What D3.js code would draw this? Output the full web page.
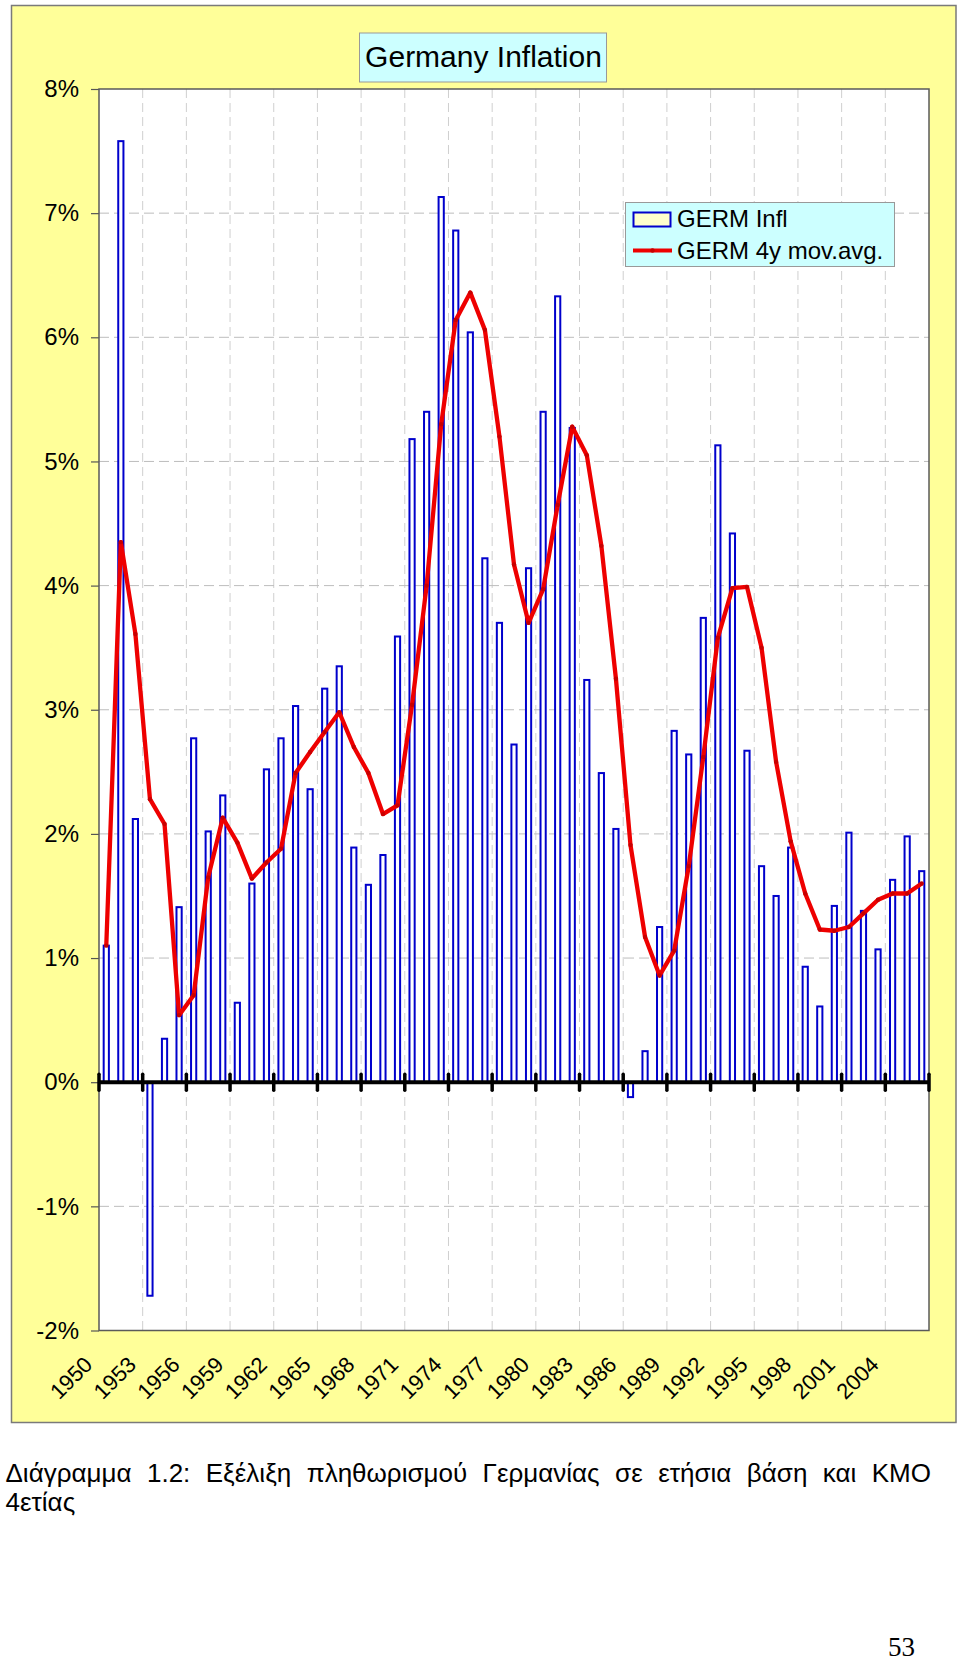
<!DOCTYPE html>
<html><head><meta charset="utf-8">
<script src="https://cdn.jsdelivr.net/npm/d3@7"></script>
<style>body{margin:0;background:#fff}</style>
</head><body>
<svg id="c" width="960" height="1663"></svg>
<script>
const years = [1950,1951,1952,1953,1954,1955,1956,1957,1958,1959,
  1960,1961,1962,1963,1964,1965,1966,1967,1968,1969,
  1970,1971,1972,1973,1974,1975,1976,1977,1978,1979,
  1980,1981,1982,1983,1984,1985,1986,1987,1988,1989,
  1990,1991,1992,1993,1994,1995,1996,1997,1998,1999,
  2000,2001,2002,2003,2004,2005,2006];
const inflation = [1.10,7.58,2.12,-1.72,0.35,1.41,2.77,2.02,2.31,0.64,
  1.60,2.52,2.77,3.03,2.36,3.17,3.35,1.89,1.59,1.83,
  3.59,5.18,5.40,7.13,6.86,6.04,4.22,3.70,2.72,4.14,
  5.40,6.33,5.27,3.24,2.49,2.04,-0.12,0.25,1.25,2.83,
  2.64,3.74,5.13,4.42,2.67,1.74,1.50,1.89,0.93,0.61,
  1.42,2.01,1.38,1.07,1.63,1.98,1.70];
const movAvg = [1.10,4.35,3.61,2.28,2.08,0.54,0.70,1.65,2.13,1.93,
  1.64,1.77,1.88,2.49,2.66,2.82,2.98,2.70,2.49,2.16,
  2.23,3.04,4.00,5.30,6.14,6.36,6.06,5.20,4.17,3.70,
  3.97,4.65,5.28,5.05,4.32,3.25,1.91,1.17,0.86,1.06,
  1.74,2.62,3.58,3.98,3.99,3.50,2.58,1.94,1.52,1.23,
  1.22,1.25,1.36,1.47,1.52,1.52,1.60];
const yTicks = [-2,-1,0,1,2,3,4,5,6,7,8];
const xLabelYears = [1950,1953,1956,1959,1962,1965,1968,1971,1974,1977,1980,1983,1986,1989,1992,1995,1998,2001,2004];
const titleText = "Germany Inflation";
const legendLabels = ["GERM Infl","GERM 4y mov.avg."];
const captionLine1 = "Διάγραμμα 1.2: Εξέλιξη πληθωρισμού Γερμανίας σε ετήσια βάση και ΚΜΟ";
const captionLine2 = "4ετίας";
const pageNumber = "53";

const svg = d3.select("#c");
const FONT = "'Liberation Sans', Arial, Helvetica, sans-serif";
const L = 99, R = 929, T = 89, B = 1330.5;
const x = d3.scaleBand().domain(years).range([L, R]).padding(0);
const xi = d3.scaleLinear().domain([0, years.length]).range([L, R]);
const y = d3.scaleLinear().domain([-2, 8]).range([B, T]);
const bw = x.bandwidth();

// outer chart area
svg.append("rect").attr("x", 11.5).attr("y", 5.5).attr("width", 944.5).attr("height", 1417)
  .attr("fill", "#FFFF99").attr("stroke", "#7a7a7a").attr("stroke-width", 1.5);

// plot area
svg.append("rect").attr("x", L).attr("y", T).attr("width", R - L).attr("height", B - T).attr("fill", "#fff");

// vertical grid
const boundaryIdx = d3.range(0, years.length + 1, 3);
svg.append("g").selectAll("line").data(boundaryIdx.filter(d => d > 0 && d < years.length)).join("line")
  .attr("x1", d => xi(d)).attr("x2", d => xi(d)).attr("y1", T).attr("y2", B)
  .attr("stroke", "#cfcfcf").attr("stroke-width", 1).attr("stroke-dasharray", "9,5");

// horizontal grid
svg.append("g").selectAll("line").data(yTicks.filter(d => d !== 0 && d !== 8 && d !== -2)).join("line")
  .attr("x1", L).attr("x2", R).attr("y1", d => y(d)).attr("y2", d => y(d))
  .attr("stroke", "#bdbdbd").attr("stroke-width", 1).attr("stroke-dasharray", "10,5");

// y axis
const yAxis = svg.append("g").attr("transform", `translate(${L},0)`)
  .call(d3.axisLeft(y).tickValues(yTicks).tickFormat(d => d + "%").tickSize(8).tickPadding(12));
yAxis.select(".domain").remove();
yAxis.selectAll("line").attr("stroke", "#555").attr("stroke-width", 1.2);
yAxis.selectAll("text").attr("font-family", FONT).attr("font-size", 24).attr("fill", "#000");

// plot border
svg.append("rect").attr("x", L).attr("y", T).attr("width", R - L).attr("height", B - T)
  .attr("fill", "none").attr("stroke", "#5a5a5a").attr("stroke-width", 1.5);

// bars
svg.append("g").selectAll("rect").data(years).join("rect")
  .attr("x", d => x(d) + bw / 2 - 2.6)
  .attr("width", 5.2)
  .attr("y", (d, i) => y(Math.max(0, inflation[i])))
  .attr("height", (d, i) => Math.abs(y(inflation[i]) - y(0)))
  .attr("fill", "#fff").attr("stroke", "#0000cc").attr("stroke-width", 2);

// zero axis
svg.append("line").attr("x1", L).attr("x2", R).attr("y1", y(0)).attr("y2", y(0))
  .attr("stroke", "#000").attr("stroke-width", 4);
svg.append("g").selectAll("line").data(boundaryIdx).join("line")
  .attr("x1", d => xi(d)).attr("x2", d => xi(d)).attr("y1", y(0) - 8).attr("y2", y(0) + 8)
  .attr("stroke", "#000").attr("stroke-width", 3.5).attr("stroke-linecap", "round");

// moving average line
const line = d3.line().x((d, i) => x(years[i]) + bw / 2).y(d => y(d));
svg.append("path").datum(movAvg).attr("d", line)
  .attr("fill", "none").attr("stroke", "#ee0000").attr("stroke-width", 4.3).attr("stroke-linejoin", "round");
svg.append("g").selectAll("circle").data(movAvg).join("circle")
  .attr("cx", (d, i) => x(years[i]) + bw / 2).attr("cy", d => y(d)).attr("r", 2.2)
  .attr("fill", "#c80000");

// x labels
svg.append("g").selectAll("text").data(xLabelYears).join("text")
  .attr("transform", d => `translate(${x(d) + bw / 2 - 12.5},1366) rotate(-45)`)
  .attr("text-anchor", "end").attr("font-family", FONT).attr("font-size", 22).attr("fill", "#000")
  .text(d => d);

// title
svg.append("rect").attr("x", 359.5).attr("y", 33).attr("width", 247).attr("height", 49)
  .attr("fill", "#CCFFFF").attr("stroke", "#999").attr("stroke-width", 1);
svg.append("text").attr("x", 483.5).attr("y", 67).attr("text-anchor", "middle")
  .attr("font-family", FONT).attr("font-size", 30).attr("fill", "#000").text(titleText);

// legend
const lg = svg.append("g");
lg.append("rect").attr("x", 625.5).attr("y", 202.5).attr("width", 269).attr("height", 64)
  .attr("fill", "#CCFFFF").attr("stroke", "#999").attr("stroke-width", 1);
lg.append("rect").attr("x", 633.5).attr("y", 212.5).attr("width", 37).attr("height", 14)
  .attr("fill", "#FFFFCC").attr("stroke", "#0000cc").attr("stroke-width", 2);
lg.append("line").attr("x1", 633).attr("x2", 672).attr("y1", 250.5).attr("y2", 250.5)
  .attr("stroke", "#ee0000").attr("stroke-width", 4);
lg.append("circle").attr("cx", 652.5).attr("cy", 250.5).attr("r", 2.2).attr("fill", "#c80000");
lg.selectAll("text").data(legendLabels).join("text")
  .attr("x", 677).attr("y", (d, i) => 227 + i * 32)
  .attr("font-family", FONT).attr("font-size", 24).attr("fill", "#000").text(d => d);

// caption (justified line + last line)
const words = captionLine1.split(" ");
const cg = svg.append("g").attr("font-family", FONT).attr("font-size", 26).attr("fill", "#000");
const wt = cg.selectAll("text.w").data(words).join("text").attr("class", "w").attr("y", 1482).text(d => d);
const widths = [];
wt.each(function () { widths.push(this.getComputedTextLength()); });
const x0 = 5.5, x1 = 931;
const gap = (x1 - x0 - d3.sum(widths)) / (words.length - 1);
let cx = x0;
wt.each(function (d, i) { d3.select(this).attr("x", cx); cx += widths[i] + gap; });
cg.append("text").attr("x", x0).attr("y", 1511).text(captionLine2);

// page number
svg.append("text").attr("x", 888).attr("y", 1656).attr("font-family", "'Liberation Serif', 'Times New Roman', serif")
  .attr("font-size", 27).attr("fill", "#000").text(pageNumber);
</script>
</body></html>
